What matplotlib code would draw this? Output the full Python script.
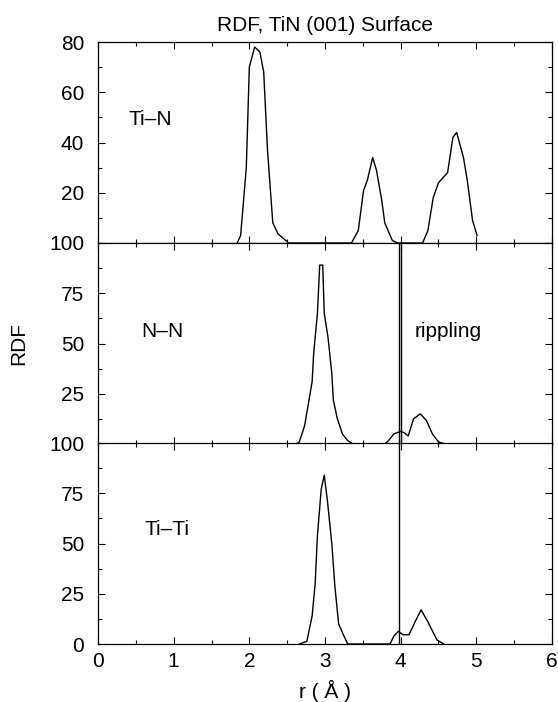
import matplotlib.pyplot as plt
from matplotlib.ticker import MultipleLocator

plt.rcParams['font.family'] = ['Liberation Sans', 'DejaVu Sans']
FS = 15

# Ti-N pair distribution
tin_r = [1.84, 1.885, 1.96, 2.0, 2.07, 2.14, 2.19, 2.24, 2.31, 2.38, 2.52,
         3.35, 3.44, 3.51, 3.56, 3.63, 3.68, 3.75, 3.79, 3.89, 3.96,
         4.29, 4.36, 4.43, 4.50, 4.62, 4.69, 4.74, 4.83, 4.88, 4.95, 5.01]
tin_g = [0, 3, 30, 70, 78, 76, 68, 37, 8, 3.6, 0,
         0, 5, 21, 25, 34, 29, 17, 8, 1, 0,
         0, 5, 18, 24, 28, 42, 44, 34, 25, 9, 3]

# N-N
nn_r = [2.62, 2.66, 2.73, 2.78, 2.83, 2.85, 2.90, 2.93, 2.97, 2.99, 3.04,
        3.09, 3.11, 3.16, 3.23, 3.30, 3.37,
        3.79, 3.84, 3.91, 4.0, 4.05, 4.10, 4.17, 4.26, 4.34, 4.42, 4.50, 4.59]
nn_g = [0, 1, 9, 20, 31, 45, 65, 89, 89, 65, 53,
        35, 22, 13, 5, 1.7, 0,
        0, 1.7, 5, 6.3, 5.5, 4, 12.5, 15, 11.7, 5, 1, 0]

# Ti-Ti
titi_r = [2.66, 2.76, 2.83, 2.87, 2.90, 2.95, 2.99, 3.03, 3.09, 3.13, 3.18,
          3.25, 3.30,
          3.86, 3.91, 3.97, 4.03, 4.11, 4.19, 4.27, 4.36, 4.48, 4.57]
titi_g = [0, 1.3, 14, 30, 54, 77, 84, 72, 50, 29, 10,
          4, 0,
          0, 4, 6.3, 4.6, 4.6, 11, 17, 11, 2, 0]

fig = plt.figure(figsize=(5.58, 7.02), dpi=100)
left, right = 98 / 558, 552 / 558
tops = [42, 243, 443]
h = 201
axes = []
for t in tops:
    ax = fig.add_axes([left, 1 - (t + h) / 702, right - left, h / 702])
    axes.append(ax)
ax1, ax2, ax3 = axes

for ax in axes:
    ax.set_xlim(0, 6)
    ax.xaxis.set_major_locator(MultipleLocator(1))
    ax.xaxis.set_minor_locator(MultipleLocator(0.5))
    ax.tick_params(which='both', direction='in', top=True, right=True,
                   labelsize=FS, width=0.8)
    ax.tick_params(which='major', length=5)
    ax.tick_params(which='minor', length=3)
    ax.tick_params(axis='y', pad=10)
    ax.tick_params(axis='x', pad=6)
    for s in ax.spines.values():
        s.set_linewidth(0.9)

ax1.plot(tin_r, tin_g, color='black', lw=1)
ax1.set_ylim(0, 80)
ax1.set_yticks([0, 20, 40, 60, 80])
ax1.set_yticklabels(['', '20', '40', '60', '80'])
ax1.yaxis.set_minor_locator(MultipleLocator(10))
ax1.set_xticklabels([])
ax1.text(0.4, 49, 'Ti\u2013N', va='center', ha='left', fontsize=FS)
ax1.set_title('RDF, TiN (001) Surface', fontsize=FS, pad=8)

ax2.plot(nn_r, nn_g, color='black', lw=1)
ax2.set_ylim(0, 100)
ax2.set_yticks([0, 25, 50, 75, 100])
ax2.set_yticklabels(['', '25', '50', '75', '100'])
ax2.yaxis.set_minor_locator(MultipleLocator(12.5))
ax2.set_xticklabels([])
ax2.axvline(3.975, color='black', lw=1)
ax2.axvline(4.0, color='black', lw=1)
ax2.text(0.57, 56, 'N\u2013N', va='center', ha='left', fontsize=FS)
ax2.text(4.19, 56, 'rippling', va='center', ha='left', fontsize=FS)
ax2.set_ylabel('RDF', fontsize=FS, labelpad=15)

ax3.plot(titi_r, titi_g, color='black', lw=1)
ax3.set_ylim(0, 100)
ax3.set_yticks([0, 25, 50, 75, 100])
ax3.yaxis.set_minor_locator(MultipleLocator(12.5))
ax3.axvline(3.975, color='black', lw=1)
ax3.text(0.61, 57, 'Ti\u2013Ti', va='center', ha='left', fontsize=FS)
ax3.set_xlabel('r ( \u00c5 )', fontsize=FS, labelpad=6)

fig.savefig('out.png', dpi=100)
